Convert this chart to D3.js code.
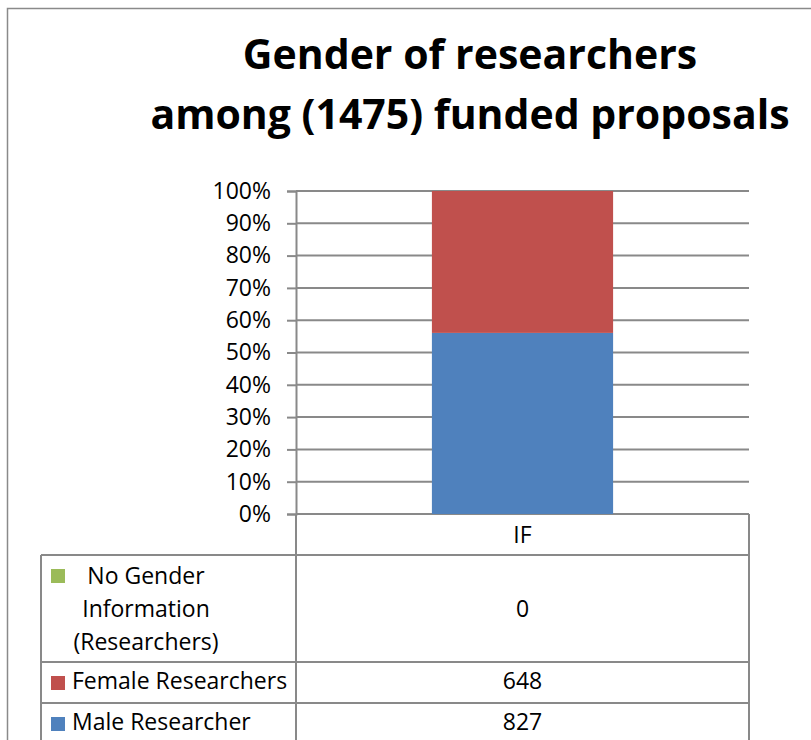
<!DOCTYPE html>
<html>
<head>
<meta charset="utf-8">
<script src="https://cdn.jsdelivr.net/npm/d3@7"></script>
<style>
  body { margin: 0; background: #fff; }
  svg text { font-family: "Open Sans", Lato, sans-serif; fill: #000; }
</style>
</head>
<body>
<div id="chart"></div>
<script>
// data
const categories = ["IF"];
const seriesNames = ["Male Researcher", "Female Researchers", "No Gender Information (Researchers)"];
const seriesValues = [827, 648, 0];
const seriesColors = ["#4F81BD", "#C0504D", "#9BBB59"];
const yTicks = [0, 0.1, 0.2, 0.3, 0.4, 0.5, 0.6, 0.7, 0.8, 0.9, 1];
const titleLines = ["Gender of researchers", "among (1475) funded proposals"];

const width = 811, height = 740;
const plot = { left: 296, right: 749, top: 191, bottom: 514 };
const gridColor = "#898989";
const fontSize = 23;

const svg = d3.select("#chart").append("svg")
  .attr("width", width).attr("height", height);

// outer chart border (runs off the right and bottom edge)
svg.append("rect")
  .attr("x", 7.5).attr("y", 8.5)
  .attr("width", 900).attr("height", 900)
  .attr("fill", "none").attr("stroke", "#8a8a8a").attr("stroke-width", 1.5);

// title
svg.append("g").selectAll("text")
  .data(titleLines)
  .join("text")
  .attr("x", 470)
  .attr("y", (d, i) => 69 + i * 60)
  .attr("text-anchor", "middle")
  .attr("font-size", 41)
  .attr("font-weight", "bold")
  .text(d => d);

// scales
const xScale = d3.scaleBand()
  .domain(categories)
  .range([plot.left, plot.right])
  .paddingInner(0.6)
  .paddingOuter(0.3);

const yScale = d3.scaleLinear()
  .domain([0, 1])
  .range([plot.bottom, plot.top]);

// gridlines
svg.append("g")
  .selectAll("line")
  .data(yTicks)
  .join("line")
  .attr("x1", plot.left).attr("x2", plot.right)
  .attr("y1", d => yScale(d)).attr("y2", d => yScale(d))
  .attr("stroke", gridColor).attr("stroke-width", 2);

// y axis
const yAxis = d3.axisLeft(yScale)
  .tickValues(yTicks)
  .tickFormat(d3.format(".0%"))
  .tickSize(9)
  .tickPadding(16);

const yg = svg.append("g")
  .attr("transform", `translate(${plot.left},0)`)
  .call(yAxis);
yg.select(".domain").attr("stroke", gridColor).attr("stroke-width", 2);
yg.selectAll(".tick line").attr("stroke", gridColor).attr("stroke-width", 2);
yg.selectAll(".tick text")
  .attr("font-size", fontSize)
  .attr("font-family", "'Open Sans', sans-serif")
  .attr("dy", "0.32em");

// stacked 100% bar
const rows = categories.map(c => {
  const r = { category: c };
  seriesNames.forEach((s, si) => r[s] = seriesValues[si]);
  return r;
});
const stacked = d3.stack().keys(seriesNames).offset(d3.stackOffsetExpand)(rows);

svg.append("g")
  .selectAll("g")
  .data(stacked)
  .join("g")
  .attr("fill", (d, i) => seriesColors[i])
  .selectAll("rect")
  .data(d => d)
  .join("rect")
  .attr("x", d => xScale(d.data.category))
  .attr("width", xScale.bandwidth())
  .attr("y", d => yScale(d[1]))
  .attr("height", d => yScale(d[0]) - yScale(d[1]));

// data table
const tableLeft = 41;
const tableLines = svg.append("g")
  .attr("stroke", gridColor).attr("stroke-width", 2).attr("fill", "none");

// category header row
const headTop = plot.bottom, headBottom = 555;
tableLines.append("line").attr("x1", plot.left).attr("x2", plot.left).attr("y1", headTop).attr("y2", headBottom);
tableLines.append("line").attr("x1", plot.right).attr("x2", plot.right).attr("y1", headTop).attr("y2", headBottom);

const colMid = xScale(categories[0]) + xScale.bandwidth() / 2;

svg.append("g").selectAll("text")
  .data(categories)
  .join("text")
  .attr("x", d => xScale(d) + xScale.bandwidth() / 2)
  .attr("y", 543)
  .attr("text-anchor", "middle")
  .attr("font-size", fontSize)
  .text(d => d);

// series rows, top row is the last series
const tableRows = [
  { lines: ["No Gender", "Information", "(Researchers)"], si: 2, top: 555, bottom: 662 },
  { lines: [seriesNames[1]], si: 1, top: 662, bottom: 703 },
  { lines: [seriesNames[0]], si: 0, top: 703, bottom: 760 }
];

tableRows.forEach(r => {
  tableLines.append("line").attr("x1", tableLeft).attr("x2", plot.right).attr("y1", r.top).attr("y2", r.top);
  tableLines.append("line").attr("x1", tableLeft).attr("x2", tableLeft).attr("y1", r.top).attr("y2", r.bottom);
  tableLines.append("line").attr("x1", plot.left).attr("x2", plot.left).attr("y1", r.top).attr("y2", r.bottom);
  tableLines.append("line").attr("x1", plot.right).attr("x2", plot.right).attr("y1", r.top).attr("y2", r.bottom);

  const multi = r.lines.length > 1;

  svg.append("rect")
    .attr("x", 51).attr("y", r.top + 14)
    .attr("width", 14).attr("height", 14)
    .attr("fill", seriesColors[r.si]);

  if (multi) {
    svg.append("g").selectAll("text")
      .data(r.lines)
      .join("text")
      .attr("x", 146)
      .attr("y", (d, i) => r.top + 29 + i * 33)
      .attr("text-anchor", "middle")
      .attr("font-size", fontSize)
      .text(d => d);
  } else {
    svg.append("text")
      .attr("x", 72).attr("y", r.top + 27)
      .attr("font-size", fontSize)
      .text(r.lines[0]);
  }

  svg.append("text")
    .attr("x", colMid)
    .attr("y", multi ? r.top + 62 : r.top + 27)
    .attr("text-anchor", "middle")
    .attr("font-size", fontSize)
    .text(seriesValues[r.si]);
});
</script>
</body>
</html>
